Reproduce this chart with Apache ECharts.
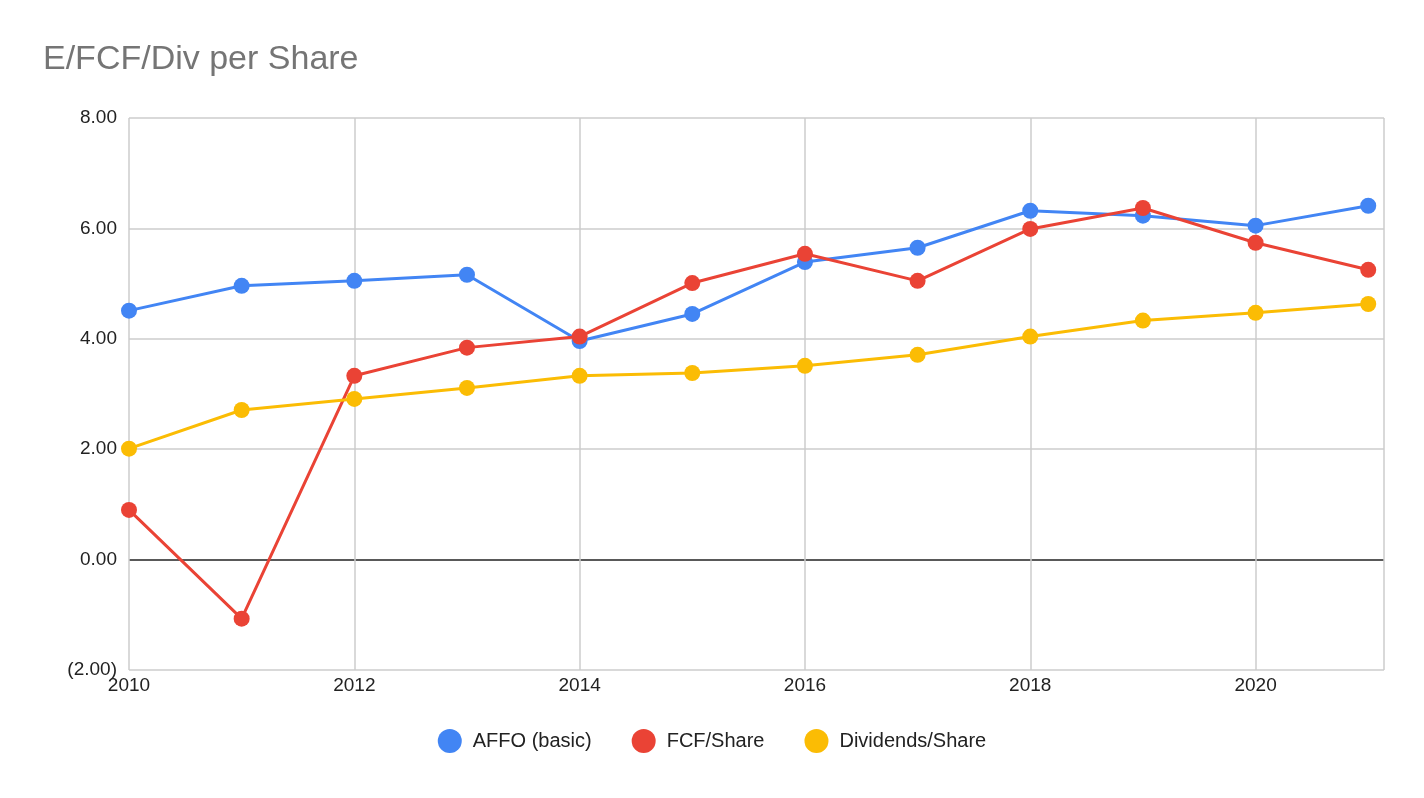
<!DOCTYPE html>
<html>
<head>
<meta charset="utf-8">
<script src="https://cdn.jsdelivr.net/npm/echarts@6/dist/echarts.min.js"></script>
<style>html,body{margin:0;background:#fff}#chart{width:1424px;height:798px}</style>
</head>
<body>
<div id="chart"></div>
<script>
var years = [2010, 2011, 2012, 2013, 2014, 2015, 2016, 2017, 2018, 2019, 2020, 2021];
var affo = [4.51, 4.96, 5.05, 5.16, 3.96, 4.45, 5.39, 5.65, 6.32, 6.23, 6.05, 6.41];
var fcf = [0.90, -1.07, 3.33, 3.84, 4.04, 5.01, 5.54, 5.05, 5.99, 6.37, 5.74, 5.25];
var divs = [2.01, 2.71, 2.91, 3.11, 3.33, 3.38, 3.51, 3.71, 4.04, 4.33, 4.47, 4.63];

function pairs(vals) {
    return years.map(function (y, i) { return [y, vals[i]]; });
}
function mkSeries(name, vals, color) {
    return {
        name: name, type: 'line', data: pairs(vals),
        symbol: 'circle', symbolSize: 16,
        lineStyle: { color: color, width: 3 },
        itemStyle: { color: color }
    };
}

var myChart = echarts.init(document.getElementById('chart'));
myChart.setOption({
    animation: false,
    title: {
        text: 'E/FCF/Div per Share', left: 38, top: 38,
        textStyle: { color: '#757575', fontSize: 34, fontWeight: 'normal', fontFamily: 'Liberation Sans' }
    },
    legend: {
        bottom: 40, itemWidth: 24, itemHeight: 24, itemGap: 40, icon: 'circle',
        textStyle: { fontSize: 20, color: '#222', fontFamily: 'Liberation Sans', padding: [0, 0, 0, 6] },
        data: ['AFFO (basic)', 'FCF/Share', 'Dividends/Share']
    },
    grid: { left: 129, right: 40, top: 118, bottom: 128 },
    xAxis: {
        type: 'value', min: 2010, max: 2021.14, interval: 2,
        axisLine: { show: false }, axisTick: { show: false },
        axisLabel: {
            showMaxLabel: false, color: '#222', fontSize: 19, fontFamily: 'Liberation Sans', margin: 6,
            formatter: function (v) { return String(v); }
        },
        splitLine: { show: true, lineStyle: { color: '#ccc', width: 1.5 } }
    },
    yAxis: {
        type: 'value', min: -2, max: 8, interval: 2,
        axisLine: { show: false }, axisTick: { show: false },
        axisLabel: {
            color: '#222', fontSize: 19, fontFamily: 'Liberation Sans', margin: 12,
            formatter: function (v) { return v < 0 ? '(' + Math.abs(v).toFixed(2) + ')' : v.toFixed(2); }
        },
        splitLine: {
            lineStyle: { color: ['#ccc', '#222', '#ccc', '#ccc', '#ccc', '#ccc'], width: 1.5 }
        }
    },
    series: [
        mkSeries('AFFO (basic)', affo, '#4285f4'),
        mkSeries('FCF/Share', fcf, '#ea4335'),
        mkSeries('Dividends/Share', divs, '#fbbc04')
    ]
});
</script>
</body>
</html>
